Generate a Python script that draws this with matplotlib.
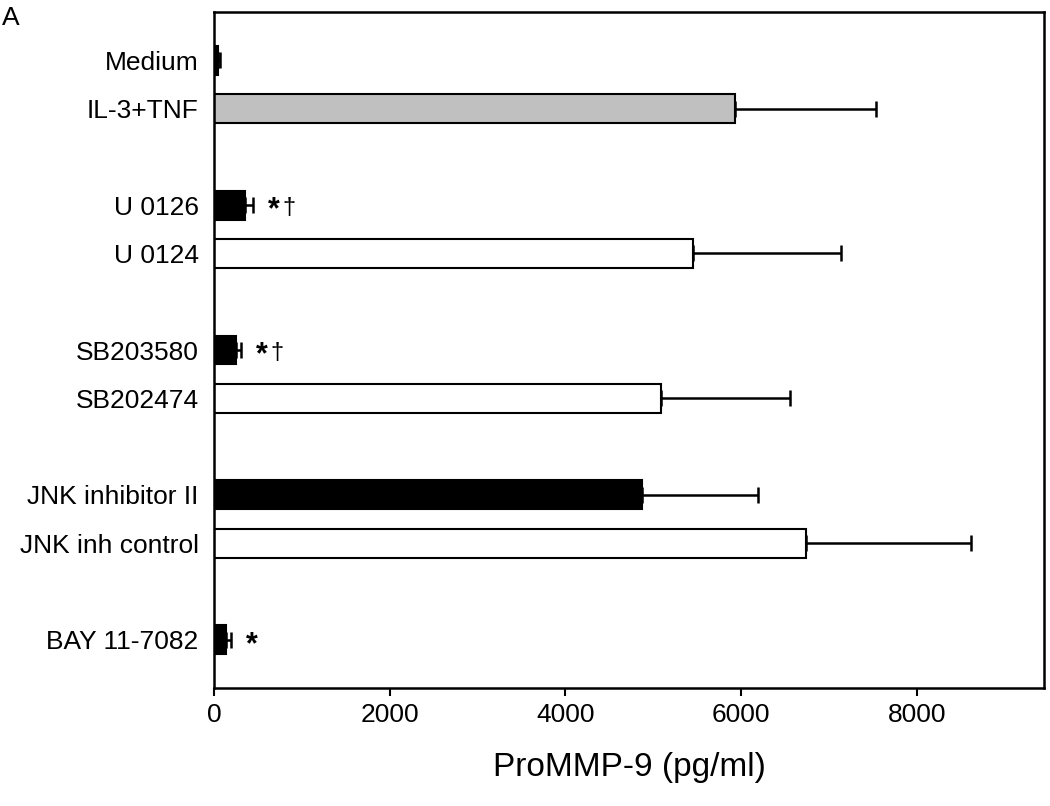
import matplotlib.pyplot as plt
import numpy as np

plt.rcParams['font.family'] = ['Liberation Sans', 'DejaVu Sans']

# data
labels = ['Medium', 'IL-3+TNF', 'U 0126', 'U 0124', 'SB203580', 'SB202474',
          'JNK inhibitor II', 'JNK inh control', 'BAY 11-7082']
positions = [0, 1, 3, 4, 6, 7, 9, 10, 12]
values = [45, 5930, 350, 5455, 245, 5085, 4870, 6745, 135]
errors = [25, 1605, 95, 1680, 58, 1475, 1325, 1875, 60]
fills = ['black', '#c0c0c0', 'black', 'white', 'black', 'white', 'black', 'white', 'black']
marks = ['', '', '*\u2020', '', '*\u2020', '', '', '', '*']

fig = plt.figure(figsize=(10.5, 8.06), dpi=100)
ax = fig.add_axes([0.2038, 0.1464, 0.7905, 0.8387])

ax.barh(positions, values, height=0.6, color=fills, edgecolor='black', linewidth=1.5, zorder=2)
ax.errorbar(values, positions, xerr=[np.zeros(len(errors)), errors], fmt='none',
            ecolor='black', elinewidth=1.8, capsize=5.5, capthick=1.8, zorder=1)

# significance marks next to error caps
for v, e, p, m in zip(values, errors, positions, marks):
    if not m:
        continue
    ax.annotate('*', xy=(v + e, p), xytext=(15, -4), textcoords='offset points',
                ha='center', va='center', fontsize=22, fontweight='bold')
    if '\u2020' in m:
        ax.annotate('\u2020', xy=(v + e, p), xytext=(26, -2), textcoords='offset points',
                    ha='center', va='center', fontsize=17)

ax.set_xlim(0, 9450)
ax.set_ylim(13, -1)
ax.set_yticks(positions)
ax.set_yticklabels(labels)
ax.set_xticks([0, 2000, 4000, 6000, 8000])
ax.tick_params(axis='y', length=0, pad=11, labelsize=19)
ax.tick_params(axis='x', length=6, width=1.5, pad=5, labelsize=19)
ax.set_xlabel('ProMMP-9 (pg/ml)', fontsize=24, labelpad=18)
for s in ax.spines.values():
    s.set_linewidth(1.8)

fig.text(0.002, 0.992, 'A', fontsize=19, ha='left', va='top')

fig.savefig('out.png', dpi=100)
